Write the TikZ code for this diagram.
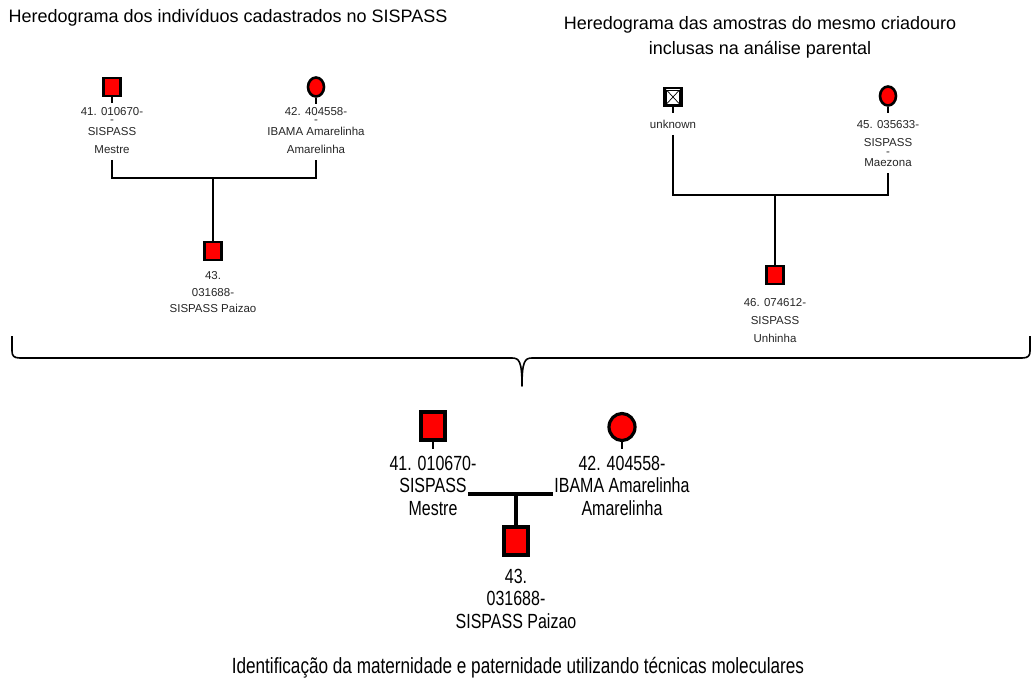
\documentclass[tikz,border=0pt]{standalone}
\usepackage{fontspec}
\setmainfont{Liberation Sans}
\newfontfamily\condensed{Liberation Sans}[FakeStretch=0.78]
\usetikzlibrary{shapes.geometric,calc}

% Multi-line labels are placed by the baseline of their last line.
\tikzset{
  smallmale/.style={rectangle, draw=black, fill=red, line width=2.6pt,
    minimum width=17pt, minimum height=18pt, inner sep=0pt},
  smallfemale/.style={ellipse, draw=black, fill=red, line width=2.6pt,
    minimum width=16pt, minimum height=19pt, inner sep=0pt},
  smallunknown/.style={rectangle, draw=black, fill=white, line width=2.6pt,
    minimum width=17pt, minimum height=18pt, inner sep=0pt},
  bigmale/.style={rectangle, draw=black, fill=red, line width=3.2pt,
    minimum width=24pt, minimum height=28pt, inner sep=0pt},
  bigfemale/.style={ellipse, draw=black, fill=red, line width=3.2pt,
    minimum width=26pt, minimum height=27pt, inner sep=0pt},
  smalllabel/.style={align=center, anchor=base, inner sep=0pt,
    font=\fontsize{11.5}{18}\selectfont, text=black!85},
  biglabel/.style={align=center, anchor=base, inner sep=0pt,
    font=\condensed\fontsize{20.5}{22.5}\selectfont},
  titletext/.style={align=center, anchor=base, inner sep=0pt,
    font=\fontsize{18}{25}\selectfont},
  smallline/.style={line width=2.6pt},
  bigline/.style={line width=3.6pt},
  stem/.style={line width=2pt},
}

\begin{document}
\begin{tikzpicture}[x=1pt,y=-1pt]
\useasboundingbox (0,0) rectangle (1035,679);

% ---------- titles ----------
\node[titletext] (t1) at (228,23) {Heredograma dos indivíduos cadastrados no SISPASS};
\node[titletext] (t2) at (760,55) {Heredograma das amostras do mesmo criadouro\\inclusas na análise parental};

% ---------- registered pedigree ----------
\node[smallmale]   (a41) at (112,87) {};
\node[smallfemale] (a42) at (316,87) {};
\node[smallmale]   (a43) at (213,251) {};
\node[smalllabel]  (la41) at (112,154) {41. 010670-\\[-10pt]-\\[-6pt]SISPASS\\Mestre};
\node[smalllabel]  (la42) at (316,154) {42. 404558-\\[-10pt]-\\[-6pt]IBAMA Amarelinha\\Amarelinha};
\node[smalllabel]  (la43) at (213,312) {43.\\[-1pt]031688-\\[-2pt]SISPASS Paizao};
\draw[stem] (a41.south) -- ++(0,6);
\draw[stem] (a42.south) -- ++(0,6);
\coordinate (pa) at (112,160);
\coordinate (ma) at (316,160);
\coordinate (ja) at (213,178);
\draw[smallline] (pa) |- (ja) -| (ma);
\draw[smallline] (ja) -- (a43.north);

% ---------- breeder samples pedigree ----------
\node[smallunknown] (u44) at (673,97) {};
\draw[line width=0.7pt] ($(u44.north west)+(3.2,3.2)$) rectangle ($(u44.south east)+(-3.2,-3.2)$);
\draw[line width=0.7pt] ($(u44.north west)+(3.2,3.2)$) -- ($(u44.south east)+(-3.2,-3.2)$);
\draw[line width=0.7pt] ($(u44.north east)+(-3.2,3.2)$) -- ($(u44.south west)+(3.2,-3.2)$);
\node[smallfemale] (b45) at (888,96) {};
\node[smallmale]   (b46) at (775,275) {};
\node[smalllabel]  (lu44) at (673,129) {unknown};
\node[smalllabel]  (lb45) at (888,167) {45. 035633-\\SISPASS\\[-9pt]-\\[-7pt]Maezona};
\node[smalllabel]  (lb46) at (775,342) {46. 074612-\\SISPASS\\Unhinha};
\draw[stem] (u44.south) -- ++(0,6);
\draw[stem] (b45.south) -- ++(0,6);
\coordinate (pb) at (673,135);
\coordinate (mb) at (888,173);
\coordinate (jb) at (775,195);
\draw[smallline] (pb) |- (jb) -| (mb);
\draw[smallline] (jb) -- (b46.north);

% ---------- brace joining both pedigrees ----------
\coordinate (bl) at (12,336);
\coordinate (br) at (1030,336);
\coordinate (bt) at (522,386);
\draw[line width=1.6pt, line join=round]
  (bl) -- (12,351) .. controls (12,356) and (14,358) .. (20,358)
  -- (512,358) .. controls (519,358) and (522,361) .. (bt)
  .. controls (522,361) and (525,358) .. (532,358)
  -- (1022,358) .. controls (1028,358) and (1030,356) .. (1030,351) -- (br);

% ---------- molecular identification ----------
\node[bigmale]   (c41) at (433,426) {};
\node[bigfemale] (c42) at (622,427) {};
\node[bigmale]   (c43) at (516,541) {};
\draw[stem] (c41.south) -- ++(0,7);
\draw[stem] (c42.south) -- ++(0,7);
\node[biglabel] (lc41) at (433,515) {41. 010670-\\SISPASS\\Mestre};
\node[biglabel] (lc42) at (622,515) {42. 404558-\\IBAMA Amarelinha\\Amarelinha};
\node[biglabel] (lc43) at (516,628) {43.\\031688-\\SISPASS Paizao};
\coordinate (pc) at (468,494);
\coordinate (mc) at (553,494);
\coordinate (jc) at (516,494);
\draw[bigline] (pc) -- (mc);
\draw[bigline] (jc) -- (c43.north);

\node[align=center, anchor=base, inner sep=0pt,
      font=\condensed\fontsize{22}{25}\selectfont] (cap) at (518,673)
  {Identificação da maternidade e paternidade utilizando técnicas moleculares};
\end{tikzpicture}
\end{document}
